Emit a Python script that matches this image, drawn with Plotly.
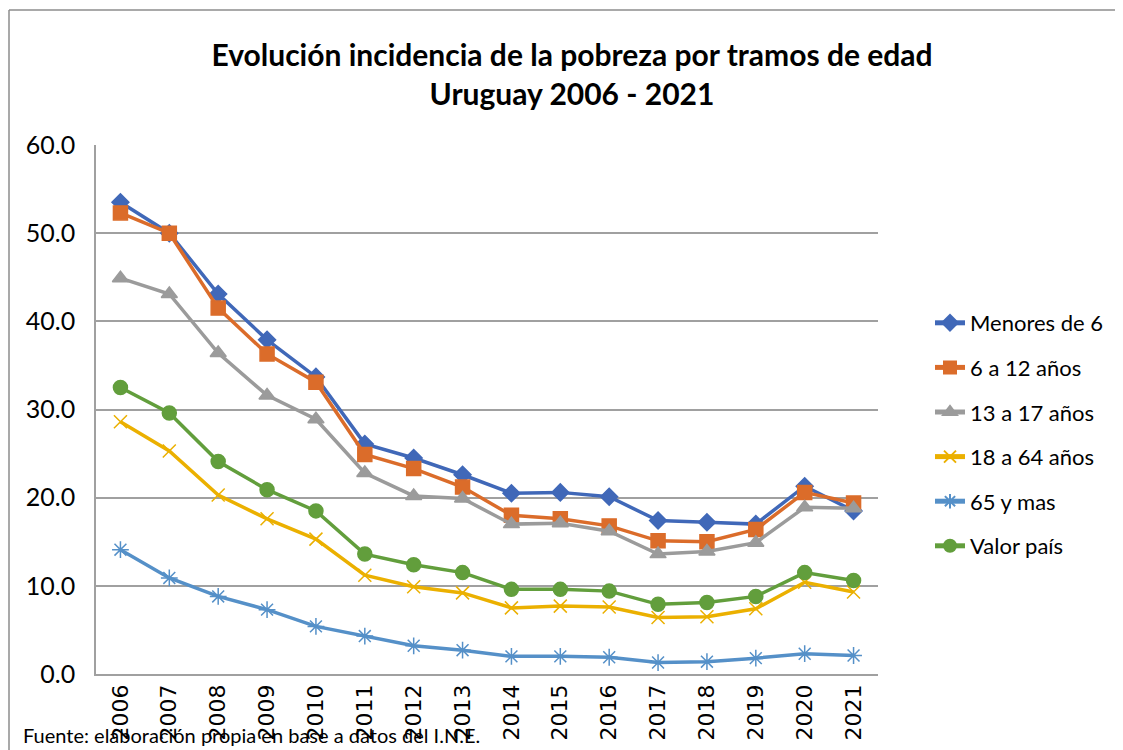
import plotly.graph_objects as go

years = [str(y) for y in range(2006, 2022)]
menores_6 = [53.5, 50.0, 43.1, 37.9, 33.7, 26.1, 24.5, 22.6, 20.5, 20.6, 20.1, 17.4, 17.2, 17.0, 21.3, 18.5]
de_6_a_12 = [52.3, 50.0, 41.5, 36.3, 33.1, 24.9, 23.3, 21.2, 18.0, 17.6, 16.8, 15.1, 15.0, 16.4, 20.6, 19.4]
de_13_a_17 = [44.9, 43.1, 36.4, 31.6, 28.9, 22.8, 20.2, 19.9, 17.0, 17.1, 16.2, 13.6, 13.9, 14.9, 18.9, 18.8]
de_18_a_64 = [28.6, 25.3, 20.3, 17.6, 15.3, 11.2, 9.9, 9.2, 7.5, 7.7, 7.6, 6.4, 6.5, 7.4, 10.4, 9.3]
mayores_65 = [14.1, 10.9, 8.8, 7.3, 5.4, 4.3, 3.2, 2.7, 2.0, 2.0, 1.9, 1.3, 1.4, 1.8, 2.3, 2.1]
valor_pais = [32.5, 29.6, 24.1, 20.9, 18.5, 13.6, 12.4, 11.5, 9.6, 9.6, 9.4, 7.9, 8.1, 8.8, 11.5, 10.6]

series = [
    ("Menores de 6", menores_6, "#4068B8", "diamond", 13),
    ("6 a 12 años", de_6_a_12, "#DB6C2A", "square", 14),
    ("13 a 17 años", de_13_a_17, "#9B9B9B", "triangle-up", 14),
    ("18 a 64 años", de_18_a_64, "#EBB000", "x-thin-open", 13),
    ("65 y mas", mayores_65, "#5590C8", "asterisk-open", 14),
    ("Valor país", valor_pais, "#629E3C", "circle", 14),
]

fig = go.Figure()
for i, (name, vals, color, sym, size) in enumerate(series):
    fig.add_trace(go.Scatter(
        x=years, y=vals, name=name, mode="lines+markers", legendgroup=f"g{i}",
        line=dict(color=color, width=3.5),
        marker=dict(symbol=sym, size=size, color=color,
                    line=dict(color=color, width=1.5)),
    ))

# page body has an 8px offset; figure coordinates below are in figure pixels
OFF = 8
W, H = 1123, 750
L, R, T, B = 96 - OFF, 878 - OFF, 145 - OFF, 674 - OFF
pw, ph = R - L, B - T

def px(x):
    return (x - OFF - L) / pw

def py(y):
    return (B - (y - OFF)) / ph

fig.update_layout(
    width=W, height=H,
    margin=dict(l=L, r=W - R, t=T, b=H - B),
    paper_bgcolor="white", plot_bgcolor="white",
    font=dict(family="Lato, Liberation Sans, sans-serif", color="#000000"),
    title=dict(
        text="<b>Evolución incidencia de la pobreza por tramos de edad<br>Uruguay 2006 - 2021</b>",
        x=(572 - OFF) / W, xanchor="center", y=1 - (66 - OFF) / H, yanchor="middle",
        font=dict(size=30, family="Lato, Liberation Sans, sans-serif"),
    ),
    legend=dict(
        x=px(930), y=py(302), xanchor="left", yanchor="top",
        font=dict(size=22, family="Lato, Liberation Sans, sans-serif"),
        tracegroupgap=13, itemsizing="constant", bgcolor="rgba(0,0,0,0)",
    ),
    showlegend=True,
)

fig.update_xaxes(
    type="category", showgrid=False, showline=True, linecolor="#A0A0A0", linewidth=1.5,
    tickangle=-90, ticks="", tickfont=dict(size=22, family="DejaVu Sans, sans-serif"),
    range=[-0.5, 15.5],
)
fig.update_yaxes(
    range=[0, 60], dtick=10, tickformat=".1f", showgrid=True, gridcolor="#A0A0A0", gridwidth=1.5,
    showline=True, linecolor="#A0A0A0", linewidth=1.5, zeroline=False,
    ticks="", tickfont=dict(size=25, family="Lato, Liberation Sans, sans-serif"),
    ticklabelstandoff=14,
)

# chart frame (top and left border)
fig.add_shape(type="line", xref="paper", yref="paper",
              x0=px(9), x1=px(1140), y0=py(10), y1=py(10),
              line=dict(color="#8C8C8C", width=1.5))
fig.add_shape(type="line", xref="paper", yref="paper",
              x0=px(9), x1=px(9), y0=py(10), y1=py(770),
              line=dict(color="#8C8C8C", width=1.5))

fig.add_annotation(
    text="Fuente: elaboración propia en base a datos del I.N.E.",
    xref="paper", yref="paper", x=px(21), y=py(749), xanchor="left", yanchor="bottom",
    showarrow=False, font=dict(size=20, family="Lato, Liberation Sans, sans-serif"),
)

fig.write_html("out.html")
